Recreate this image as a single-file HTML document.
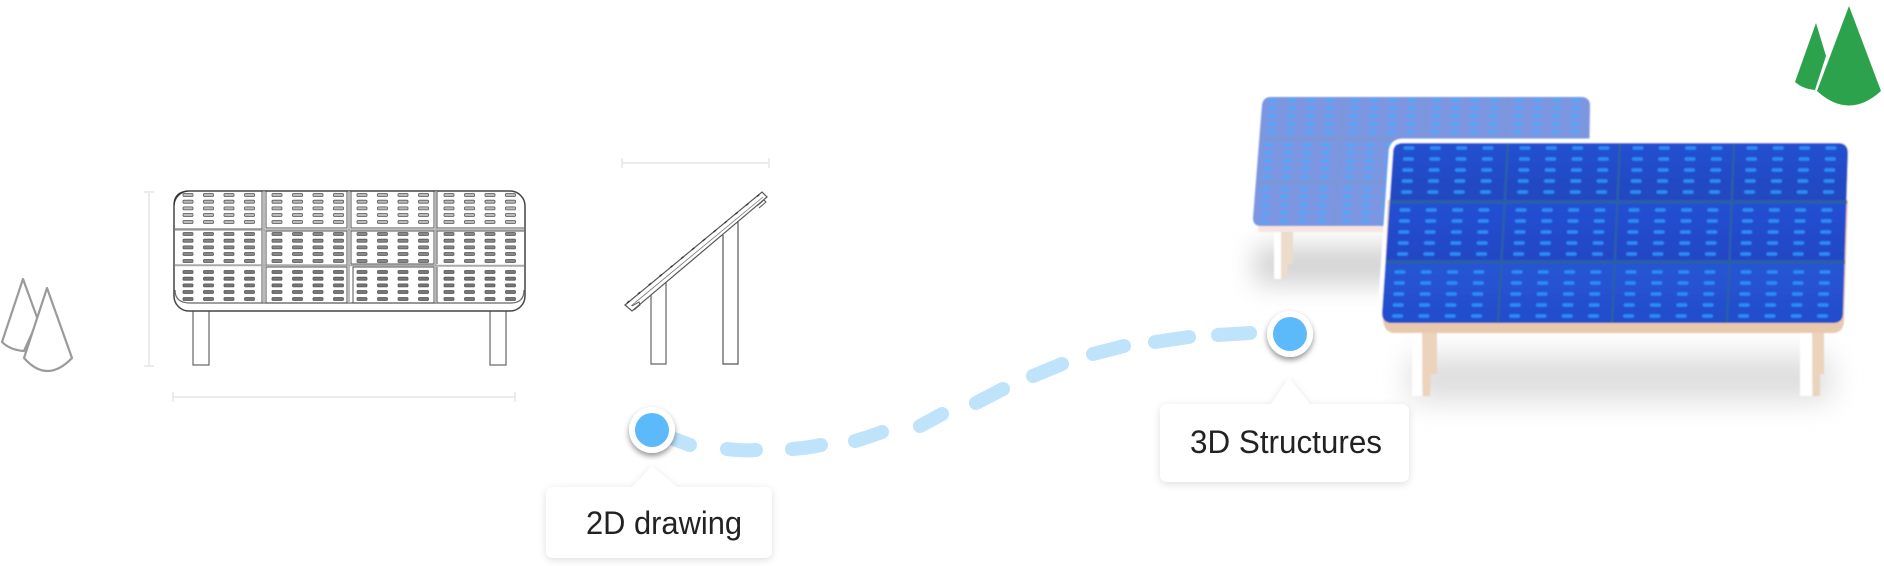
<!DOCTYPE html>
<html><head><meta charset="utf-8"><style>html,body{margin:0;padding:0;background:#fff;width:1884px;height:566px;overflow:hidden}svg{display:block}</style></head>
<body>
<svg width="1884" height="566" viewBox="0 0 1884 566" xmlns="http://www.w3.org/2000/svg">
<defs>
<filter id="b" x="-5%" y="-5%" width="110%" height="110%"><feGaussianBlur stdDeviation="0.8"/></filter>
<filter id="d" x="-5%" y="-5%" width="110%" height="110%"><feGaussianBlur stdDeviation="0.35"/></filter>
<filter id="s1" x="-30%" y="-150%" width="160%" height="400%"><feGaussianBlur stdDeviation="15"/></filter>
<filter id="s2" x="-30%" y="-150%" width="160%" height="400%"><feGaussianBlur stdDeviation="13"/></filter>
<filter id="ls" x="-20%" y="-30%" width="140%" height="160%"><feDropShadow dx="0" dy="2" stdDeviation="4" flood-color="#000" flood-opacity="0.13"/></filter>
<filter id="cs" x="-50%" y="-50%" width="200%" height="200%"><feDropShadow dx="0" dy="3" stdDeviation="3" flood-color="#000" flood-opacity="0.42"/></filter>
<linearGradient id="fg" x1="0" y1="143" x2="0" y2="323" gradientUnits="userSpaceOnUse">
<stop offset="0" stop-color="#2450d0"/><stop offset="0.31" stop-color="#2047c0"/><stop offset="0.33" stop-color="#2350d4"/><stop offset="0.64" stop-color="#2046c4"/><stop offset="0.67" stop-color="#2855d4"/><stop offset="1" stop-color="#224cca"/>
</linearGradient>
<g id="fr"><rect x="-5.5" y="-1.8" width="11" height="3.6" rx="1.8"/><rect x="20.8" y="-1.8" width="11" height="3.6" rx="1.8"/><rect x="47.1" y="-1.8" width="11" height="3.6" rx="1.8"/><rect x="73.4" y="-1.8" width="11" height="3.6" rx="1.8"/></g>
<g id="fc"><use href="#fr"/><use href="#fr" x="-0.6" y="11"/><use href="#fr" x="-1.2" y="22"/><use href="#fr" x="-1.8" y="33"/><use href="#fr" x="-2.4" y="44"/></g>
<g id="br"><rect x="-4.3" y="-1.7" width="8.6" height="3.4" rx="1.7"/><rect x="14.8" y="-1.7" width="8.6" height="3.4" rx="1.7"/><rect x="33.9" y="-1.7" width="8.6" height="3.4" rx="1.7"/><rect x="53" y="-1.7" width="8.6" height="3.4" rx="1.7"/></g>
<g id="bc"><use href="#br"/><use href="#br" x="-0.5" y="8"/><use href="#br" x="-0.9" y="16"/><use href="#br" x="-1.4" y="24"/><use href="#br" x="-1.8" y="32"/></g>
<g id="dr"><rect x="-5" y="-1.5" width="10" height="3" rx="1"/><rect x="15.5" y="-1.5" width="10" height="3" rx="1"/><rect x="36" y="-1.5" width="10" height="3" rx="1"/><rect x="56.5" y="-1.5" width="10" height="3" rx="1"/></g>
<g id="dc"><use href="#dr"/><use href="#dr" y="6.7"/><use href="#dr" y="13.4"/><use href="#dr" y="20"/><use href="#dr" y="27"/></g>
</defs>

<!-- grey trees -->
<g fill="#fff" stroke="#9a9a9a" stroke-width="2.2" stroke-linejoin="round">
<path d="M23,279L2,342Q10,350 24,351L38,320Z"/>
<path d="M47,288L24,358Q47,384 72,358Z"/>
</g>

<!-- dimension lines -->
<g stroke="#ececec" stroke-width="2" fill="none">
<path d="M149,193V366M144,192H154M144,366H154"/>
<path d="M173,397H515M173,392V402M515,392V402"/>
<path d="M622,163H769M622,158V168M769,158V168"/>
</g>

<g filter="url(#d)">
<!-- front view drawing -->
<g fill="#fff" stroke="#555" stroke-width="1.2">
<rect x="193" y="305" width="16" height="60" stroke="#666"/>
<rect x="490" y="305" width="16" height="60" stroke="#666"/>
<rect x="174" y="191" width="351" height="120" rx="15" stroke="#444" stroke-width="1.5"/>
<path d="M174,205Q174,192 188,191" fill="none" stroke="#333"/>
<path d="M175,290Q175,303 190,303H511Q524,303 524,290" fill="none" stroke="#666"/>
<g fill="none" stroke-width="1">
<path d="M175,229H262M175,265H262M262,191V303"/>
<path d="M266,191V228H347V191M266,231H347V265H266ZM266,267H347V303H266Z"/>
<path d="M351,191V228H434V191M351,231H434V264H351ZM353,267H434V303H353Z"/>
<path d="M437,191V228H524M437,231H524M437,266H524M437,231V264M437,267V303"/>
</g>
<path d="M264,191V303M349,191V303M436,191V303M175,230H524M175,265.500H524" fill="none" stroke="#aaa" stroke-width="1.6"/>
</g>
<g stroke="#555" stroke-width="0.8">
<g fill="#bbb"><use href="#dc" x="188" y="195"/><use href="#dc" x="277" y="195"/><use href="#dc" x="362" y="195"/><use href="#dc" x="449" y="195"/></g>
<g fill="#888"><use href="#dc" x="188" y="234"/><use href="#dc" x="277" y="234"/><use href="#dc" x="362" y="234"/><use href="#dc" x="449" y="234"/></g>
<g fill="#777"><use href="#dc" x="188" y="272"/><use href="#dc" x="277" y="272"/><use href="#dc" x="362" y="272"/><use href="#dc" x="449" y="272"/></g>
</g>

<!-- side view drawing -->
<g fill="#fff" stroke="#555" stroke-width="1.2">
<path d="M651,294V364H666V282" stroke="#666"/>
<path d="M723,235V364H738V222" stroke="#555"/>
<path d="M625,305L762,192L767,197L632,311Z" stroke="#555"/>
<path d="M631,306L763,197" stroke="#777" stroke-width="0.8" fill="none"/>
<path d="M632,306L639,302L640,305L634,310M757,206L764,200L766,202L759,208" fill="none" stroke-width="1"/>
<path d="M627,303L760,194" fill="none" stroke="#333" stroke-width="1.4" stroke-dasharray="3 11"/>
</g>
</g>

<!-- back 3D panel -->
<rect x="1255" y="246" width="210" height="38" fill="#d2d2d2" filter="url(#s2)"/>
<g filter="url(#b)">
<rect x="1274" y="228" width="7" height="51" fill="#fff"/>
<path d="M1281,228H1293V264H1288V278H1281Z" fill="#ecdccb"/>
<path d="M1262,150L1258,232H1600V150Z" fill="#f6e6de"/>
<path d="M1271,97H1581Q1590,97 1590,106L1588,217Q1588,226 1580,226H1261Q1253,226 1253,218L1262,105Q1263,97 1271,97Z" fill="#7b96e2"/>
<g stroke="#7a9bcc" fill="none" opacity="0.7"><path stroke-width="2" d="M1260,139H1589M1256,182H1588"/><path stroke-width="2" d="M1344,97L1334,226M1426,97L1417,226M1508,97L1500,226"/></g>
<g fill="#55a6f9">
<use href="#bc" x="1273" y="100"/><use href="#bc" x="1355" y="100"/><use href="#bc" x="1437" y="100"/><use href="#bc" x="1519" y="100"/>
<use href="#bc" x="1269" y="145"/><use href="#bc" x="1351" y="145"/><use href="#bc" x="1433" y="145"/><use href="#bc" x="1515" y="145"/>
<use href="#bc" x="1266" y="189"/><use href="#bc" x="1348" y="189"/><use href="#bc" x="1430" y="189"/><use href="#bc" x="1512" y="189"/>
</g>
</g>

<!-- front 3D panel -->
<rect x="1410" y="356" width="420" height="44" fill="#dcdcdc" filter="url(#s1)"/>
<g filter="url(#b)">
<path d="M1403,143H1838Q1848,143 1848,153L1843,313Q1843,323 1833,323H1392Q1382,323 1382,313L1393,153Q1393,143 1403,143Z" fill="#fff" stroke="#fff" stroke-width="9" stroke-linejoin="round"/>
<rect x="1412" y="330" width="10" height="66" fill="#fff"/>
<rect x="1800" y="330" width="12" height="66" fill="#fff"/>
<path d="M1422,330H1437V374H1431L1430,396H1423Z" fill="#ecd3bc"/>
<path d="M1812,330H1824V374H1820V396H1813Z" fill="#ecd3bc"/>
<path d="M1388,200H1848L1844,322Q1843,333 1832,333H1394Q1384,332 1383,320Z" fill="#e8c9ae"/>
<path d="M1403,143H1838Q1848,143 1848,153L1843,313Q1843,323 1833,323H1392Q1382,323 1382,313L1393,153Q1393,143 1403,143Z" fill="url(#fg)"/>
<g stroke="#2b5fa8" fill="none"><path stroke-width="3.5" d="M1390,202H1847M1386,262H1845"/><path stroke-width="2.5" d="M1508,143L1498,323M1620,143L1612,323M1734,143L1727,323"/></g>
<g fill="#2a8cf6">
<use href="#fc" x="1409" y="148"/><use href="#fc" x="1525" y="148"/><use href="#fc" x="1638" y="148"/><use href="#fc" x="1752" y="148"/>
<use href="#fc" x="1405" y="210"/><use href="#fc" x="1521" y="210"/><use href="#fc" x="1634" y="210"/><use href="#fc" x="1748" y="210"/>
<use href="#fc" x="1400" y="272"/><use href="#fc" x="1517" y="272"/><use href="#fc" x="1631" y="272"/><use href="#fc" x="1746" y="272"/>
</g>
</g>

<!-- green trees -->
<g fill="#2ca24c">
<path d="M1816,23L1795,82Q1803,89 1815,90L1826,56Z"/>
<path d="M1849,6L1817,91Q1849,120 1881,91Z"/>
</g>

<!-- dashed connector -->
<g fill="none" stroke="#bfe3fb" stroke-width="14" stroke-linecap="round">
<path d="M652,431L690,445"/><path d="M727,449Q743,451 756,450"/><path d="M792,449Q807,448 821,445"/><path d="M855,441Q869,437 882,432"/><path d="M920,426Q933,419 942,414"/><path d="M976,403L1003,389"/><path d="M1033,376L1062,364"/><path d="M1093,354L1124,346"/><path d="M1155,342L1189,337"/><path d="M1218,335L1250,333"/>
</g>

<!-- labels -->
<path d="M554,487H632L652,466L677,487H764Q772,487 772,495V550Q772,558 764,558H554Q546,558 546,550V495Q546,487 554,487Z" fill="#fff" filter="url(#ls)"/>
<path d="M1168,404H1271L1289,378L1310,404H1401Q1409,404 1409,412V474Q1409,482 1401,482H1168Q1160,482 1160,474V412Q1160,404 1168,404Z" fill="#fff" filter="url(#ls)"/>
<text x="586" y="534" font-family="'Liberation Sans',sans-serif" font-size="32" fill="#222" textLength="156" lengthAdjust="spacingAndGlyphs">2D drawing</text>
<text x="1190" y="453" font-family="'Liberation Sans',sans-serif" font-size="32" fill="#222" textLength="192" lengthAdjust="spacingAndGlyphs">3D Structures</text>

<!-- markers -->
<circle cx="652" cy="430" r="23" fill="#fff" filter="url(#cs)"/><circle cx="652" cy="430" r="17" fill="#5cb9fa"/>
<circle cx="1290" cy="334" r="23" fill="#fff" filter="url(#cs)"/><circle cx="1290" cy="334" r="17" fill="#5cb9fa"/>
</svg>
</body></html>
